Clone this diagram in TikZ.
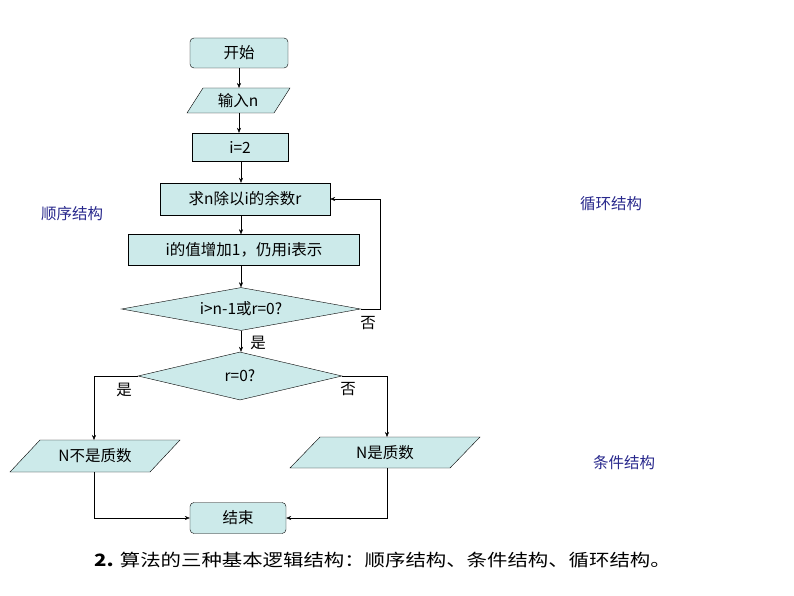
\documentclass[tikz,border=0pt]{standalone}
\usepackage{fontspec}
\setmainfont{Noto Sans CJK SC}
\usetikzlibrary{shapes.geometric,arrows.meta}
\definecolor{boxfill}{RGB}{204,234,234}
\definecolor{lbl}{RGB}{40,40,140}
\begin{document}
\begin{tikzpicture}[x=1pt,y=-1pt,
  base/.style={draw,fill=boxfill,font=\fontsize{15.5}{17}\selectfont,inner sep=0pt},
  shp/.style={draw,fill=boxfill},
  rbox/.style={base,rounded corners=4pt,minimum width=#1},
  pbox/.style={base,minimum width=#1},
  dia/.style={base,diamond,aspect=5.5},
  arr/.style={-{Stealth[length=5pt,width=4pt]}},
  txt/.style={font=\fontsize{15.5}{17}\selectfont}]
\useasboundingbox (0,0) rectangle (794,596);
\node[rbox=98,minimum height=30] (start) at (239,53) {开始};
\draw[shp] (187,113) -- (203,88) -- (290,88) -- (274,113) -- cycle;
\node[txt] (in) at (238,101) {输入n};
\coordinate (inT) at (239,88); \coordinate (inB) at (239,113);
\node[pbox=96,minimum height=28] (i2) at (240,147) {i=2};
\node[pbox=170,minimum height=32] (mod) at (245,199) {求n除以i的余数r};
\node[pbox=231,minimum height=31] (inc) at (244,250) {i的值增加1，仍用i表示};
\node[dia,minimum width=239,minimum height=43] (d1) at (241,309) {i>n-1或r=0?};
\node[dia,minimum width=204,minimum height=48] (d2) at (240,376) {r=0?};
\draw[shp] (10,472) -- (40,440) -- (180,440) -- (150,472) -- cycle;
\node[txt] (np) at (95,456) {N不是质数};
\coordinate (npT) at (94,440); \coordinate (npB) at (94,472);
\draw[shp] (290,468) -- (320,437) -- (480,437) -- (450,468) -- cycle;
\node[txt] (p) at (385,453) {N是质数};
\coordinate (pT) at (387,437); \coordinate (pB) at (387,468);
\node[rbox=96,minimum height=31] (end) at (238,518) {结束};
\draw[arr] (start.south -| 239,0) -- (inT);
\draw[arr] (inB) -- (i2.north -| 239,0);
\draw[arr] (i2.south -| 241,0) -- (mod.north -| 241,0);
\draw[arr] (mod.south -| 241,0) -- (inc.north -| 241,0);
\draw[arr] (inc.south -| 241,0) -- (d1.north);
\draw[arr] (d1.south) -- (d2.north -| 241,0);
\draw[arr] (d1.east) -- (380,309) |- (mod.east);
\draw[arr] (d2.west) -| (npT);
\draw[arr] (d2.east) -| (pT);
\draw[arr] (npB) |- (end.west);
\draw[arr] (pB) |- (end.east);
\node[txt] (no1) at (368,323) {否};
\node[txt] (yes1) at (258,343) {是};
\node[txt] (yes2) at (124,390) {是};
\node[txt] (no2) at (348,389) {否};
\node[txt,text=lbl] (l1) at (72,214) {顺序结构};
\node[txt,text=lbl] (l2) at (611,204) {循环结构};
\node[txt,text=lbl] (l3) at (624,463) {条件结构};
\node[font=\fontsize{17}{19}\selectfont,anchor=west,xscale=1.2,transform shape] (cap) at (90,560) {\textbf{2.} 算法的三种基本逻辑结构：顺序结构、条件结构、循环结构。};
\end{tikzpicture}
\end{document}
